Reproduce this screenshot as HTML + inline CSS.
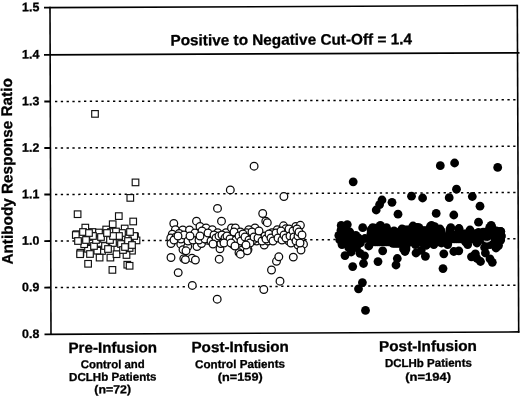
<!DOCTYPE html>
<html><head><meta charset="utf-8"><title>Antibody Response Ratio</title>
<style>
html,body{margin:0;padding:0;background:#fff;}
svg{display:block;font-family:"Liberation Sans",sans-serif;font-weight:bold;fill:#000;}
text{stroke:#000;stroke-width:0.3px;}
</style></head><body>
<svg width="520" height="397" viewBox="0 0 520 397">
<rect width="520" height="397" fill="#fff"/>
<line x1="55" y1="101.48" x2="516" y2="99.81" stroke="#000" stroke-width="1.5" stroke-dasharray="2.3 3.5"/>
<line x1="44.3" y1="101.52" x2="50.5" y2="101.5" stroke="#000" stroke-width="1.8" />
<line x1="55" y1="147.98" x2="516" y2="146.31" stroke="#000" stroke-width="1.5" stroke-dasharray="2.3 3.5"/>
<line x1="44.3" y1="148.02" x2="50.5" y2="148.0" stroke="#000" stroke-width="1.8" />
<line x1="55" y1="194.48" x2="516" y2="192.51" stroke="#000" stroke-width="1.5" stroke-dasharray="2.3 3.5"/>
<line x1="44.3" y1="194.52" x2="50.5" y2="194.5" stroke="#000" stroke-width="1.8" />
<line x1="55" y1="240.98" x2="516" y2="238.71" stroke="#000" stroke-width="1.5" stroke-dasharray="2.3 3.5"/>
<line x1="44.3" y1="241.03" x2="50.5" y2="241.0" stroke="#000" stroke-width="1.8" />
<line x1="55" y1="287.48" x2="516" y2="285.21" stroke="#000" stroke-width="1.5" stroke-dasharray="2.3 3.5"/>
<line x1="44.3" y1="287.53" x2="50.5" y2="287.5" stroke="#000" stroke-width="1.8" />
<line x1="44" y1="7.63" x2="517.3" y2="5.5" stroke="#000" stroke-width="1.6" />
<line x1="44" y1="54.82" x2="519.5" y2="52.89" stroke="#000" stroke-width="1.8" />
<line x1="44.5" y1="334.33" x2="519.4" y2="331.89" stroke="#000" stroke-width="1.6" />
<line x1="50" y1="6.8" x2="51" y2="335.1" stroke="#000" stroke-width="1.6" />
<line x1="517.3" y1="4.7" x2="518.7" y2="332.7" stroke="#000" stroke-width="1.6" />
<rect x="91.7" y="110.6" width="6.6" height="6.6" fill="#fff" stroke="#111" stroke-width="1.15"/>
<rect x="132.2" y="179.1" width="6.6" height="6.6" fill="#fff" stroke="#111" stroke-width="1.15"/>
<rect x="127.0" y="194.6" width="6.6" height="6.6" fill="#fff" stroke="#111" stroke-width="1.15"/>
<rect x="74.3" y="210.9" width="6.6" height="6.6" fill="#fff" stroke="#111" stroke-width="1.15"/>
<rect x="115.5" y="212.8" width="6.6" height="6.6" fill="#fff" stroke="#111" stroke-width="1.15"/>
<rect x="129.9" y="218.2" width="6.6" height="6.6" fill="#fff" stroke="#111" stroke-width="1.15"/>
<rect x="109.4" y="220.9" width="6.6" height="6.6" fill="#fff" stroke="#111" stroke-width="1.15"/>
<rect x="82.0" y="224.3" width="6.6" height="6.6" fill="#fff" stroke="#111" stroke-width="1.15"/>
<rect x="121.4" y="225.2" width="6.6" height="6.6" fill="#fff" stroke="#111" stroke-width="1.15"/>
<rect x="102.9" y="226.2" width="6.6" height="6.6" fill="#fff" stroke="#111" stroke-width="1.15"/>
<rect x="89.1" y="228.7" width="6.6" height="6.6" fill="#fff" stroke="#111" stroke-width="1.15"/>
<rect x="73.2" y="230.9" width="6.6" height="6.6" fill="#fff" stroke="#111" stroke-width="1.15"/>
<rect x="77.1" y="233.5" width="6.6" height="6.6" fill="#fff" stroke="#111" stroke-width="1.15"/>
<rect x="131.7" y="233.2" width="6.6" height="6.6" fill="#fff" stroke="#111" stroke-width="1.15"/>
<rect x="133.2" y="237.1" width="6.6" height="6.6" fill="#fff" stroke="#111" stroke-width="1.15"/>
<rect x="103.2" y="237.4" width="6.6" height="6.6" fill="#fff" stroke="#111" stroke-width="1.15"/>
<rect x="93.2" y="232.5" width="6.6" height="6.6" fill="#fff" stroke="#111" stroke-width="1.15"/>
<rect x="122.5" y="234.7" width="6.6" height="6.6" fill="#fff" stroke="#111" stroke-width="1.15"/>
<rect x="114.7" y="236.3" width="6.6" height="6.6" fill="#fff" stroke="#111" stroke-width="1.15"/>
<rect x="84.7" y="245.5" width="6.6" height="6.6" fill="#fff" stroke="#111" stroke-width="1.15"/>
<rect x="98.7" y="247.7" width="6.6" height="6.6" fill="#fff" stroke="#111" stroke-width="1.15"/>
<rect x="94.0" y="247.4" width="6.6" height="6.6" fill="#fff" stroke="#111" stroke-width="1.15"/>
<rect x="77.1" y="249.4" width="6.6" height="6.6" fill="#fff" stroke="#111" stroke-width="1.15"/>
<rect x="128.7" y="247.4" width="6.6" height="6.6" fill="#fff" stroke="#111" stroke-width="1.15"/>
<rect x="114.0" y="244.7" width="6.6" height="6.6" fill="#fff" stroke="#111" stroke-width="1.15"/>
<rect x="123.2" y="240.9" width="6.6" height="6.6" fill="#fff" stroke="#111" stroke-width="1.15"/>
<rect x="80.9" y="240.9" width="6.6" height="6.6" fill="#fff" stroke="#111" stroke-width="1.15"/>
<rect x="84.8" y="260.5" width="6.6" height="6.6" fill="#fff" stroke="#111" stroke-width="1.15"/>
<rect x="109.1" y="266.6" width="6.6" height="6.6" fill="#fff" stroke="#111" stroke-width="1.15"/>
<rect x="124.0" y="261.4" width="6.6" height="6.6" fill="#fff" stroke="#111" stroke-width="1.15"/>
<rect x="126.3" y="262.5" width="6.6" height="6.6" fill="#fff" stroke="#111" stroke-width="1.15"/>
<rect x="76.8" y="250.9" width="6.6" height="6.6" fill="#fff" stroke="#111" stroke-width="1.15"/>
<rect x="96.3" y="254.3" width="6.6" height="6.6" fill="#fff" stroke="#111" stroke-width="1.15"/>
<rect x="107.1" y="254.3" width="6.6" height="6.6" fill="#fff" stroke="#111" stroke-width="1.15"/>
<rect x="113.2" y="250.9" width="6.6" height="6.6" fill="#fff" stroke="#111" stroke-width="1.15"/>
<rect x="123.2" y="251.7" width="6.6" height="6.6" fill="#fff" stroke="#111" stroke-width="1.15"/>
<rect x="126.3" y="244.7" width="6.6" height="6.6" fill="#fff" stroke="#111" stroke-width="1.15"/>
<rect x="130.9" y="232.7" width="6.6" height="6.6" fill="#fff" stroke="#111" stroke-width="1.15"/>
<rect x="72.5" y="231.7" width="6.6" height="6.6" fill="#fff" stroke="#111" stroke-width="1.15"/>
<rect x="107.7" y="228.7" width="6.6" height="6.6" fill="#fff" stroke="#111" stroke-width="1.15"/>
<rect x="87.7" y="237.7" width="6.6" height="6.6" fill="#fff" stroke="#111" stroke-width="1.15"/>
<rect x="98.7" y="230.7" width="6.6" height="6.6" fill="#fff" stroke="#111" stroke-width="1.15"/>
<rect x="112.5" y="232.5" width="6.6" height="6.6" fill="#fff" stroke="#111" stroke-width="1.15"/>
<rect x="117.7" y="240.7" width="6.6" height="6.6" fill="#fff" stroke="#111" stroke-width="1.15"/>
<rect x="105.7" y="233.7" width="6.6" height="6.6" fill="#fff" stroke="#111" stroke-width="1.15"/>
<rect x="109.7" y="239.7" width="6.6" height="6.6" fill="#fff" stroke="#111" stroke-width="1.15"/>
<rect x="96.7" y="239.7" width="6.6" height="6.6" fill="#fff" stroke="#111" stroke-width="1.15"/>
<rect x="90.7" y="242.7" width="6.6" height="6.6" fill="#fff" stroke="#111" stroke-width="1.15"/>
<rect x="101.7" y="242.7" width="6.6" height="6.6" fill="#fff" stroke="#111" stroke-width="1.15"/>
<rect x="118.7" y="229.7" width="6.6" height="6.6" fill="#fff" stroke="#111" stroke-width="1.15"/>
<rect x="126.7" y="228.7" width="6.6" height="6.6" fill="#fff" stroke="#111" stroke-width="1.15"/>
<rect x="84.7" y="233.7" width="6.6" height="6.6" fill="#fff" stroke="#111" stroke-width="1.15"/>
<rect x="79.7" y="228.7" width="6.6" height="6.6" fill="#fff" stroke="#111" stroke-width="1.15"/>
<rect x="95.7" y="229.2" width="6.6" height="6.6" fill="#fff" stroke="#111" stroke-width="1.15"/>
<rect x="112.7" y="228.2" width="6.6" height="6.6" fill="#fff" stroke="#111" stroke-width="1.15"/>
<rect x="119.7" y="246.7" width="6.6" height="6.6" fill="#fff" stroke="#111" stroke-width="1.15"/>
<rect x="104.7" y="245.7" width="6.6" height="6.6" fill="#fff" stroke="#111" stroke-width="1.15"/>
<rect x="86.7" y="250.7" width="6.6" height="6.6" fill="#fff" stroke="#111" stroke-width="1.15"/>
<rect x="100.7" y="235.7" width="6.6" height="6.6" fill="#fff" stroke="#111" stroke-width="1.15"/>
<rect x="124.7" y="237.7" width="6.6" height="6.6" fill="#fff" stroke="#111" stroke-width="1.15"/>
<rect x="82.7" y="236.7" width="6.6" height="6.6" fill="#fff" stroke="#111" stroke-width="1.15"/>
<rect x="74.7" y="237.7" width="6.6" height="6.6" fill="#fff" stroke="#111" stroke-width="1.15"/>
<rect x="92.7" y="236.7" width="6.6" height="6.6" fill="#fff" stroke="#111" stroke-width="1.15"/>
<rect x="115.7" y="232.7" width="6.6" height="6.6" fill="#fff" stroke="#111" stroke-width="1.15"/>
<rect x="106.7" y="236.7" width="6.6" height="6.6" fill="#fff" stroke="#111" stroke-width="1.15"/>
<rect x="128.7" y="241.7" width="6.6" height="6.6" fill="#fff" stroke="#111" stroke-width="1.15"/>
<rect x="97.7" y="233.7" width="6.6" height="6.6" fill="#fff" stroke="#111" stroke-width="1.15"/>
<rect x="109.7" y="232.7" width="6.6" height="6.6" fill="#fff" stroke="#111" stroke-width="1.15"/>
<rect x="89.7" y="232.7" width="6.6" height="6.6" fill="#fff" stroke="#111" stroke-width="1.15"/>
<rect x="121.7" y="243.7" width="6.6" height="6.6" fill="#fff" stroke="#111" stroke-width="1.15"/>
<rect x="103.7" y="229.7" width="6.6" height="6.6" fill="#fff" stroke="#111" stroke-width="1.15"/>
<rect x="85.7" y="229.7" width="6.6" height="6.6" fill="#fff" stroke="#111" stroke-width="1.15"/>
<circle cx="230.3" cy="189.9" r="3.85" fill="#fff" stroke="#0a0a0a" stroke-width="1.25"/>
<circle cx="217.5" cy="208.4" r="3.85" fill="#fff" stroke="#0a0a0a" stroke-width="1.25"/>
<circle cx="254.1" cy="166.2" r="3.85" fill="#fff" stroke="#0a0a0a" stroke-width="1.25"/>
<circle cx="283.9" cy="196.5" r="3.85" fill="#fff" stroke="#0a0a0a" stroke-width="1.25"/>
<circle cx="221.5" cy="221.2" r="3.85" fill="#fff" stroke="#0a0a0a" stroke-width="1.25"/>
<circle cx="196.5" cy="221.2" r="3.85" fill="#fff" stroke="#0a0a0a" stroke-width="1.25"/>
<circle cx="173.8" cy="223.5" r="3.85" fill="#fff" stroke="#0a0a0a" stroke-width="1.25"/>
<circle cx="175.4" cy="229.6" r="3.85" fill="#fff" stroke="#0a0a0a" stroke-width="1.25"/>
<circle cx="182.8" cy="230.0" r="3.85" fill="#fff" stroke="#0a0a0a" stroke-width="1.25"/>
<circle cx="189.5" cy="230.0" r="3.85" fill="#fff" stroke="#0a0a0a" stroke-width="1.25"/>
<circle cx="200.0" cy="226.5" r="3.85" fill="#fff" stroke="#0a0a0a" stroke-width="1.25"/>
<circle cx="206.0" cy="228.0" r="3.85" fill="#fff" stroke="#0a0a0a" stroke-width="1.25"/>
<circle cx="212.3" cy="229.6" r="3.85" fill="#fff" stroke="#0a0a0a" stroke-width="1.25"/>
<circle cx="217.7" cy="232.7" r="3.85" fill="#fff" stroke="#0a0a0a" stroke-width="1.25"/>
<circle cx="172.3" cy="234.2" r="3.85" fill="#fff" stroke="#0a0a0a" stroke-width="1.25"/>
<circle cx="179.2" cy="233.5" r="3.85" fill="#fff" stroke="#0a0a0a" stroke-width="1.25"/>
<circle cx="170.8" cy="238.0" r="3.85" fill="#fff" stroke="#0a0a0a" stroke-width="1.25"/>
<circle cx="171.0" cy="243.5" r="3.85" fill="#fff" stroke="#0a0a0a" stroke-width="1.25"/>
<circle cx="180.8" cy="244.2" r="3.85" fill="#fff" stroke="#0a0a0a" stroke-width="1.25"/>
<circle cx="183.0" cy="249.6" r="3.85" fill="#fff" stroke="#0a0a0a" stroke-width="1.25"/>
<circle cx="187.7" cy="246.5" r="3.85" fill="#fff" stroke="#0a0a0a" stroke-width="1.25"/>
<circle cx="197.0" cy="246.5" r="3.85" fill="#fff" stroke="#0a0a0a" stroke-width="1.25"/>
<circle cx="201.5" cy="243.5" r="3.85" fill="#fff" stroke="#0a0a0a" stroke-width="1.25"/>
<circle cx="207.7" cy="240.4" r="3.85" fill="#fff" stroke="#0a0a0a" stroke-width="1.25"/>
<circle cx="213.8" cy="240.4" r="3.85" fill="#fff" stroke="#0a0a0a" stroke-width="1.25"/>
<circle cx="220.0" cy="248.8" r="3.85" fill="#fff" stroke="#0a0a0a" stroke-width="1.25"/>
<circle cx="220.8" cy="243.5" r="3.85" fill="#fff" stroke="#0a0a0a" stroke-width="1.25"/>
<circle cx="226.0" cy="232.7" r="3.85" fill="#fff" stroke="#0a0a0a" stroke-width="1.25"/>
<circle cx="231.5" cy="228.0" r="3.85" fill="#fff" stroke="#0a0a0a" stroke-width="1.25"/>
<circle cx="235.4" cy="228.0" r="3.85" fill="#fff" stroke="#0a0a0a" stroke-width="1.25"/>
<circle cx="232.3" cy="235.8" r="3.85" fill="#fff" stroke="#0a0a0a" stroke-width="1.25"/>
<circle cx="237.7" cy="235.8" r="3.85" fill="#fff" stroke="#0a0a0a" stroke-width="1.25"/>
<circle cx="233.8" cy="245.0" r="3.85" fill="#fff" stroke="#0a0a0a" stroke-width="1.25"/>
<circle cx="239.0" cy="252.7" r="3.85" fill="#fff" stroke="#0a0a0a" stroke-width="1.25"/>
<circle cx="171.0" cy="257.5" r="3.85" fill="#fff" stroke="#0a0a0a" stroke-width="1.25"/>
<circle cx="219.2" cy="259.2" r="3.85" fill="#fff" stroke="#0a0a0a" stroke-width="1.25"/>
<circle cx="183.8" cy="258.6" r="3.85" fill="#fff" stroke="#0a0a0a" stroke-width="1.25"/>
<circle cx="192.0" cy="258.2" r="3.85" fill="#fff" stroke="#0a0a0a" stroke-width="1.25"/>
<circle cx="195.4" cy="260.0" r="3.85" fill="#fff" stroke="#0a0a0a" stroke-width="1.25"/>
<circle cx="185.4" cy="259.6" r="3.85" fill="#fff" stroke="#0a0a0a" stroke-width="1.25"/>
<circle cx="191.5" cy="236.5" r="3.85" fill="#fff" stroke="#0a0a0a" stroke-width="1.25"/>
<circle cx="197.0" cy="236.5" r="3.85" fill="#fff" stroke="#0a0a0a" stroke-width="1.25"/>
<circle cx="203.0" cy="235.8" r="3.85" fill="#fff" stroke="#0a0a0a" stroke-width="1.25"/>
<circle cx="209.0" cy="236.5" r="3.85" fill="#fff" stroke="#0a0a0a" stroke-width="1.25"/>
<circle cx="186.0" cy="238.0" r="3.85" fill="#fff" stroke="#0a0a0a" stroke-width="1.25"/>
<circle cx="223.0" cy="239.6" r="3.85" fill="#fff" stroke="#0a0a0a" stroke-width="1.25"/>
<circle cx="228.5" cy="240.4" r="3.85" fill="#fff" stroke="#0a0a0a" stroke-width="1.25"/>
<circle cx="178.2" cy="272.6" r="3.85" fill="#fff" stroke="#0a0a0a" stroke-width="1.25"/>
<circle cx="192.3" cy="285.4" r="3.85" fill="#fff" stroke="#0a0a0a" stroke-width="1.25"/>
<circle cx="217.2" cy="299.2" r="3.85" fill="#fff" stroke="#0a0a0a" stroke-width="1.25"/>
<circle cx="186.0" cy="250.8" r="3.85" fill="#fff" stroke="#0a0a0a" stroke-width="1.25"/>
<circle cx="262.7" cy="213.5" r="3.85" fill="#fff" stroke="#0a0a0a" stroke-width="1.25"/>
<circle cx="265.8" cy="221.2" r="3.85" fill="#fff" stroke="#0a0a0a" stroke-width="1.25"/>
<circle cx="267.3" cy="222.7" r="3.85" fill="#fff" stroke="#0a0a0a" stroke-width="1.25"/>
<circle cx="255.0" cy="228.0" r="3.85" fill="#fff" stroke="#0a0a0a" stroke-width="1.25"/>
<circle cx="248.8" cy="229.6" r="3.85" fill="#fff" stroke="#0a0a0a" stroke-width="1.25"/>
<circle cx="240.4" cy="232.0" r="3.85" fill="#fff" stroke="#0a0a0a" stroke-width="1.25"/>
<circle cx="237.3" cy="238.0" r="3.85" fill="#fff" stroke="#0a0a0a" stroke-width="1.25"/>
<circle cx="242.7" cy="238.0" r="3.85" fill="#fff" stroke="#0a0a0a" stroke-width="1.25"/>
<circle cx="244.2" cy="243.5" r="3.85" fill="#fff" stroke="#0a0a0a" stroke-width="1.25"/>
<circle cx="248.0" cy="249.6" r="3.85" fill="#fff" stroke="#0a0a0a" stroke-width="1.25"/>
<circle cx="240.4" cy="254.2" r="3.85" fill="#fff" stroke="#0a0a0a" stroke-width="1.25"/>
<circle cx="238.0" cy="243.5" r="3.85" fill="#fff" stroke="#0a0a0a" stroke-width="1.25"/>
<circle cx="251.0" cy="235.0" r="3.85" fill="#fff" stroke="#0a0a0a" stroke-width="1.25"/>
<circle cx="256.5" cy="234.2" r="3.85" fill="#fff" stroke="#0a0a0a" stroke-width="1.25"/>
<circle cx="261.0" cy="237.3" r="3.85" fill="#fff" stroke="#0a0a0a" stroke-width="1.25"/>
<circle cx="256.5" cy="241.0" r="3.85" fill="#fff" stroke="#0a0a0a" stroke-width="1.25"/>
<circle cx="264.2" cy="245.0" r="3.85" fill="#fff" stroke="#0a0a0a" stroke-width="1.25"/>
<circle cx="268.0" cy="241.0" r="3.85" fill="#fff" stroke="#0a0a0a" stroke-width="1.25"/>
<circle cx="272.0" cy="232.7" r="3.85" fill="#fff" stroke="#0a0a0a" stroke-width="1.25"/>
<circle cx="275.0" cy="237.3" r="3.85" fill="#fff" stroke="#0a0a0a" stroke-width="1.25"/>
<circle cx="277.3" cy="229.6" r="3.85" fill="#fff" stroke="#0a0a0a" stroke-width="1.25"/>
<circle cx="280.4" cy="236.5" r="3.85" fill="#fff" stroke="#0a0a0a" stroke-width="1.25"/>
<circle cx="283.5" cy="225.8" r="3.85" fill="#fff" stroke="#0a0a0a" stroke-width="1.25"/>
<circle cx="285.8" cy="228.8" r="3.85" fill="#fff" stroke="#0a0a0a" stroke-width="1.25"/>
<circle cx="288.0" cy="233.5" r="3.85" fill="#fff" stroke="#0a0a0a" stroke-width="1.25"/>
<circle cx="288.8" cy="241.0" r="3.85" fill="#fff" stroke="#0a0a0a" stroke-width="1.25"/>
<circle cx="292.7" cy="239.6" r="3.85" fill="#fff" stroke="#0a0a0a" stroke-width="1.25"/>
<circle cx="295.8" cy="233.5" r="3.85" fill="#fff" stroke="#0a0a0a" stroke-width="1.25"/>
<circle cx="295.8" cy="226.5" r="3.85" fill="#fff" stroke="#0a0a0a" stroke-width="1.25"/>
<circle cx="300.4" cy="225.3" r="3.85" fill="#fff" stroke="#0a0a0a" stroke-width="1.25"/>
<circle cx="301.0" cy="239.6" r="3.85" fill="#fff" stroke="#0a0a0a" stroke-width="1.25"/>
<circle cx="303.5" cy="244.2" r="3.85" fill="#fff" stroke="#0a0a0a" stroke-width="1.25"/>
<circle cx="298.0" cy="245.0" r="3.85" fill="#fff" stroke="#0a0a0a" stroke-width="1.25"/>
<circle cx="276.5" cy="261.3" r="3.85" fill="#fff" stroke="#0a0a0a" stroke-width="1.25"/>
<circle cx="293.3" cy="257.1" r="3.85" fill="#fff" stroke="#0a0a0a" stroke-width="1.25"/>
<circle cx="278.8" cy="256.8" r="3.85" fill="#fff" stroke="#0a0a0a" stroke-width="1.25"/>
<circle cx="253.5" cy="239.6" r="3.85" fill="#fff" stroke="#0a0a0a" stroke-width="1.25"/>
<circle cx="246.5" cy="232.7" r="3.85" fill="#fff" stroke="#0a0a0a" stroke-width="1.25"/>
<circle cx="271.5" cy="270.0" r="3.85" fill="#fff" stroke="#0a0a0a" stroke-width="1.25"/>
<circle cx="280.0" cy="281.2" r="3.85" fill="#fff" stroke="#0a0a0a" stroke-width="1.25"/>
<circle cx="263.8" cy="289.5" r="3.85" fill="#fff" stroke="#0a0a0a" stroke-width="1.25"/>
<circle cx="247.3" cy="250.8" r="3.85" fill="#fff" stroke="#0a0a0a" stroke-width="1.25"/>
<circle cx="301.0" cy="250.0" r="3.85" fill="#fff" stroke="#0a0a0a" stroke-width="1.25"/>
<circle cx="176.0" cy="237.0" r="3.85" fill="#fff" stroke="#0a0a0a" stroke-width="1.25"/>
<circle cx="181.0" cy="239.0" r="3.85" fill="#fff" stroke="#0a0a0a" stroke-width="1.25"/>
<circle cx="184.0" cy="235.0" r="3.85" fill="#fff" stroke="#0a0a0a" stroke-width="1.25"/>
<circle cx="188.0" cy="241.0" r="3.85" fill="#fff" stroke="#0a0a0a" stroke-width="1.25"/>
<circle cx="193.0" cy="240.0" r="3.85" fill="#fff" stroke="#0a0a0a" stroke-width="1.25"/>
<circle cx="195.0" cy="233.0" r="3.85" fill="#fff" stroke="#0a0a0a" stroke-width="1.25"/>
<circle cx="199.0" cy="240.0" r="3.85" fill="#fff" stroke="#0a0a0a" stroke-width="1.25"/>
<circle cx="202.0" cy="231.0" r="3.85" fill="#fff" stroke="#0a0a0a" stroke-width="1.25"/>
<circle cx="205.0" cy="239.0" r="3.85" fill="#fff" stroke="#0a0a0a" stroke-width="1.25"/>
<circle cx="208.0" cy="233.0" r="3.85" fill="#fff" stroke="#0a0a0a" stroke-width="1.25"/>
<circle cx="211.0" cy="241.0" r="3.85" fill="#fff" stroke="#0a0a0a" stroke-width="1.25"/>
<circle cx="214.0" cy="235.0" r="3.85" fill="#fff" stroke="#0a0a0a" stroke-width="1.25"/>
<circle cx="216.0" cy="238.0" r="3.85" fill="#fff" stroke="#0a0a0a" stroke-width="1.25"/>
<circle cx="219.0" cy="236.0" r="3.85" fill="#fff" stroke="#0a0a0a" stroke-width="1.25"/>
<circle cx="222.0" cy="235.0" r="3.85" fill="#fff" stroke="#0a0a0a" stroke-width="1.25"/>
<circle cx="225.0" cy="238.0" r="3.85" fill="#fff" stroke="#0a0a0a" stroke-width="1.25"/>
<circle cx="227.0" cy="236.0" r="3.85" fill="#fff" stroke="#0a0a0a" stroke-width="1.25"/>
<circle cx="230.0" cy="239.0" r="3.85" fill="#fff" stroke="#0a0a0a" stroke-width="1.25"/>
<circle cx="234.0" cy="232.0" r="3.85" fill="#fff" stroke="#0a0a0a" stroke-width="1.25"/>
<circle cx="236.0" cy="240.0" r="3.85" fill="#fff" stroke="#0a0a0a" stroke-width="1.25"/>
<circle cx="239.0" cy="236.0" r="3.85" fill="#fff" stroke="#0a0a0a" stroke-width="1.25"/>
<circle cx="241.0" cy="241.0" r="3.85" fill="#fff" stroke="#0a0a0a" stroke-width="1.25"/>
<circle cx="243.0" cy="234.0" r="3.85" fill="#fff" stroke="#0a0a0a" stroke-width="1.25"/>
<circle cx="245.0" cy="237.0" r="3.85" fill="#fff" stroke="#0a0a0a" stroke-width="1.25"/>
<circle cx="249.0" cy="240.0" r="3.85" fill="#fff" stroke="#0a0a0a" stroke-width="1.25"/>
<circle cx="250.0" cy="243.0" r="3.85" fill="#fff" stroke="#0a0a0a" stroke-width="1.25"/>
<circle cx="252.0" cy="232.0" r="3.85" fill="#fff" stroke="#0a0a0a" stroke-width="1.25"/>
<circle cx="254.0" cy="237.0" r="3.85" fill="#fff" stroke="#0a0a0a" stroke-width="1.25"/>
<circle cx="258.0" cy="238.0" r="3.85" fill="#fff" stroke="#0a0a0a" stroke-width="1.25"/>
<circle cx="259.0" cy="231.0" r="3.85" fill="#fff" stroke="#0a0a0a" stroke-width="1.25"/>
<circle cx="262.0" cy="241.0" r="3.85" fill="#fff" stroke="#0a0a0a" stroke-width="1.25"/>
<circle cx="265.0" cy="236.0" r="3.85" fill="#fff" stroke="#0a0a0a" stroke-width="1.25"/>
<circle cx="266.0" cy="239.0" r="3.85" fill="#fff" stroke="#0a0a0a" stroke-width="1.25"/>
<circle cx="269.0" cy="234.0" r="3.85" fill="#fff" stroke="#0a0a0a" stroke-width="1.25"/>
<circle cx="271.0" cy="238.0" r="3.85" fill="#fff" stroke="#0a0a0a" stroke-width="1.25"/>
<circle cx="273.0" cy="241.0" r="3.85" fill="#fff" stroke="#0a0a0a" stroke-width="1.25"/>
<circle cx="276.0" cy="233.0" r="3.85" fill="#fff" stroke="#0a0a0a" stroke-width="1.25"/>
<circle cx="278.0" cy="238.0" r="3.85" fill="#fff" stroke="#0a0a0a" stroke-width="1.25"/>
<circle cx="281.0" cy="231.0" r="3.85" fill="#fff" stroke="#0a0a0a" stroke-width="1.25"/>
<circle cx="282.0" cy="240.0" r="3.85" fill="#fff" stroke="#0a0a0a" stroke-width="1.25"/>
<circle cx="284.0" cy="235.0" r="3.85" fill="#fff" stroke="#0a0a0a" stroke-width="1.25"/>
<circle cx="286.0" cy="238.0" r="3.85" fill="#fff" stroke="#0a0a0a" stroke-width="1.25"/>
<circle cx="289.0" cy="229.0" r="3.85" fill="#fff" stroke="#0a0a0a" stroke-width="1.25"/>
<circle cx="290.0" cy="236.0" r="3.85" fill="#fff" stroke="#0a0a0a" stroke-width="1.25"/>
<circle cx="291.0" cy="243.0" r="3.85" fill="#fff" stroke="#0a0a0a" stroke-width="1.25"/>
<circle cx="293.0" cy="231.0" r="3.85" fill="#fff" stroke="#0a0a0a" stroke-width="1.25"/>
<circle cx="294.0" cy="237.0" r="3.85" fill="#fff" stroke="#0a0a0a" stroke-width="1.25"/>
<circle cx="296.0" cy="241.0" r="3.85" fill="#fff" stroke="#0a0a0a" stroke-width="1.25"/>
<circle cx="297.0" cy="229.0" r="3.85" fill="#fff" stroke="#0a0a0a" stroke-width="1.25"/>
<circle cx="298.0" cy="236.0" r="3.85" fill="#fff" stroke="#0a0a0a" stroke-width="1.25"/>
<circle cx="299.0" cy="232.0" r="3.85" fill="#fff" stroke="#0a0a0a" stroke-width="1.25"/>
<circle cx="300.0" cy="243.0" r="3.85" fill="#fff" stroke="#0a0a0a" stroke-width="1.25"/>
<circle cx="302.0" cy="235.0" r="3.85" fill="#fff" stroke="#0a0a0a" stroke-width="1.25"/>
<circle cx="190.0" cy="236.0" r="3.85" fill="#fff" stroke="#0a0a0a" stroke-width="1.25"/>
<circle cx="174.0" cy="240.0" r="3.85" fill="#fff" stroke="#0a0a0a" stroke-width="1.25"/>
<circle cx="178.0" cy="236.0" r="3.85" fill="#fff" stroke="#0a0a0a" stroke-width="1.25"/>
<circle cx="200.0" cy="236.0" r="3.85" fill="#fff" stroke="#0a0a0a" stroke-width="1.25"/>
<circle cx="213.0" cy="244.0" r="3.85" fill="#fff" stroke="#0a0a0a" stroke-width="1.25"/>
<circle cx="224.0" cy="243.0" r="3.85" fill="#fff" stroke="#0a0a0a" stroke-width="1.25"/>
<circle cx="231.0" cy="243.0" r="3.85" fill="#fff" stroke="#0a0a0a" stroke-width="1.25"/>
<circle cx="235.0" cy="246.0" r="3.85" fill="#fff" stroke="#0a0a0a" stroke-width="1.25"/>
<circle cx="246.0" cy="245.0" r="3.85" fill="#fff" stroke="#0a0a0a" stroke-width="1.25"/>
<circle cx="353.2" cy="181.8" r="4.4" fill="#000"/>
<circle cx="382.0" cy="200.0" r="4.4" fill="#000"/>
<circle cx="379.6" cy="204.6" r="4.4" fill="#000"/>
<circle cx="392.0" cy="202.3" r="4.4" fill="#000"/>
<circle cx="376.2" cy="210.0" r="4.4" fill="#000"/>
<circle cx="398.0" cy="214.2" r="4.4" fill="#000"/>
<circle cx="341.2" cy="225.4" r="4.4" fill="#000"/>
<circle cx="347.3" cy="224.6" r="4.4" fill="#000"/>
<circle cx="362.7" cy="227.7" r="4.4" fill="#000"/>
<circle cx="338.8" cy="235.4" r="4.4" fill="#000"/>
<circle cx="355.8" cy="235.4" r="4.4" fill="#000"/>
<circle cx="342.0" cy="244.6" r="4.4" fill="#000"/>
<circle cx="382.7" cy="250.8" r="4.4" fill="#000"/>
<circle cx="345.0" cy="255.6" r="4.4" fill="#000"/>
<circle cx="351.2" cy="252.0" r="4.4" fill="#000"/>
<circle cx="360.0" cy="253.4" r="4.4" fill="#000"/>
<circle cx="364.5" cy="255.8" r="4.4" fill="#000"/>
<circle cx="368.8" cy="246.0" r="4.4" fill="#000"/>
<circle cx="378.0" cy="261.6" r="4.4" fill="#000"/>
<circle cx="397.3" cy="258.5" r="4.4" fill="#000"/>
<circle cx="403.5" cy="249.0" r="4.4" fill="#000"/>
<circle cx="372.7" cy="227.7" r="4.4" fill="#000"/>
<circle cx="380.4" cy="225.4" r="4.4" fill="#000"/>
<circle cx="386.5" cy="227.7" r="4.4" fill="#000"/>
<circle cx="394.0" cy="230.8" r="4.4" fill="#000"/>
<circle cx="402.0" cy="229.0" r="4.4" fill="#000"/>
<circle cx="345.0" cy="230.8" r="4.4" fill="#000"/>
<circle cx="349.6" cy="237.0" r="4.4" fill="#000"/>
<circle cx="343.5" cy="238.5" r="4.4" fill="#000"/>
<circle cx="352.7" cy="243.0" r="4.4" fill="#000"/>
<circle cx="360.4" cy="243.0" r="4.4" fill="#000"/>
<circle cx="365.0" cy="238.5" r="4.4" fill="#000"/>
<circle cx="348.8" cy="247.7" r="4.4" fill="#000"/>
<circle cx="356.5" cy="247.7" r="4.4" fill="#000"/>
<circle cx="363.5" cy="263.5" r="4.4" fill="#000"/>
<circle cx="352.7" cy="266.6" r="4.4" fill="#000"/>
<circle cx="396.0" cy="265.0" r="4.4" fill="#000"/>
<circle cx="362.4" cy="282.6" r="4.4" fill="#000"/>
<circle cx="358.5" cy="288.8" r="4.4" fill="#000"/>
<circle cx="365.5" cy="310.4" r="4.4" fill="#000"/>
<circle cx="405.0" cy="251.5" r="4.4" fill="#000"/>
<circle cx="440.3" cy="165.7" r="4.4" fill="#000"/>
<circle cx="454.6" cy="163.0" r="4.4" fill="#000"/>
<circle cx="456.5" cy="189.2" r="4.4" fill="#000"/>
<circle cx="411.5" cy="196.2" r="4.4" fill="#000"/>
<circle cx="422.6" cy="198.0" r="4.4" fill="#000"/>
<circle cx="449.2" cy="197.7" r="4.4" fill="#000"/>
<circle cx="472.3" cy="196.5" r="4.4" fill="#000"/>
<circle cx="480.0" cy="206.2" r="4.4" fill="#000"/>
<circle cx="436.2" cy="213.4" r="4.4" fill="#000"/>
<circle cx="453.8" cy="215.0" r="4.4" fill="#000"/>
<circle cx="478.5" cy="222.2" r="4.4" fill="#000"/>
<circle cx="497.7" cy="167.4" r="4.4" fill="#000"/>
<circle cx="413.0" cy="226.0" r="4.4" fill="#000"/>
<circle cx="419.0" cy="227.7" r="4.4" fill="#000"/>
<circle cx="431.5" cy="225.4" r="4.4" fill="#000"/>
<circle cx="440.0" cy="229.0" r="4.4" fill="#000"/>
<circle cx="450.8" cy="227.7" r="4.4" fill="#000"/>
<circle cx="459.0" cy="228.5" r="4.4" fill="#000"/>
<circle cx="470.0" cy="230.0" r="4.4" fill="#000"/>
<circle cx="403.0" cy="230.0" r="4.4" fill="#000"/>
<circle cx="406.0" cy="249.0" r="4.4" fill="#000"/>
<circle cx="416.0" cy="253.0" r="4.4" fill="#000"/>
<circle cx="425.4" cy="256.3" r="4.4" fill="#000"/>
<circle cx="421.2" cy="250.4" r="4.4" fill="#000"/>
<circle cx="443.8" cy="253.8" r="4.4" fill="#000"/>
<circle cx="453.8" cy="251.5" r="4.4" fill="#000"/>
<circle cx="458.8" cy="250.8" r="4.4" fill="#000"/>
<circle cx="474.6" cy="255.0" r="4.4" fill="#000"/>
<circle cx="471.5" cy="256.8" r="4.4" fill="#000"/>
<circle cx="467.7" cy="244.6" r="4.4" fill="#000"/>
<circle cx="433.8" cy="244.6" r="4.4" fill="#000"/>
<circle cx="426.0" cy="245.4" r="4.4" fill="#000"/>
<circle cx="415.4" cy="244.6" r="4.4" fill="#000"/>
<circle cx="447.7" cy="244.6" r="4.4" fill="#000"/>
<circle cx="477.0" cy="243.0" r="4.4" fill="#000"/>
<circle cx="443.0" cy="268.6" r="4.4" fill="#000"/>
<circle cx="475.4" cy="253.8" r="4.4" fill="#000"/>
<circle cx="477.0" cy="258.5" r="4.4" fill="#000"/>
<circle cx="480.5" cy="261.5" r="4.4" fill="#000"/>
<circle cx="491.2" cy="225.4" r="4.4" fill="#000"/>
<circle cx="500.8" cy="231.5" r="4.4" fill="#000"/>
<circle cx="501.5" cy="236.0" r="4.4" fill="#000"/>
<circle cx="478.5" cy="232.3" r="4.4" fill="#000"/>
<circle cx="486.0" cy="233.0" r="4.4" fill="#000"/>
<circle cx="493.8" cy="233.0" r="4.4" fill="#000"/>
<circle cx="500.0" cy="240.0" r="4.4" fill="#000"/>
<circle cx="496.0" cy="248.0" r="4.4" fill="#000"/>
<circle cx="490.0" cy="244.6" r="4.4" fill="#000"/>
<circle cx="484.6" cy="247.5" r="4.4" fill="#000"/>
<circle cx="485.4" cy="253.0" r="4.4" fill="#000"/>
<circle cx="490.0" cy="258.8" r="4.4" fill="#000"/>
<circle cx="492.3" cy="262.3" r="4.4" fill="#000"/>
<circle cx="446.0" cy="237.0" r="4.4" fill="#000"/>
<circle cx="461.5" cy="236.0" r="4.4" fill="#000"/>
<circle cx="475.4" cy="238.5" r="4.4" fill="#000"/>
<circle cx="483.0" cy="238.5" r="4.4" fill="#000"/>
<circle cx="490.8" cy="238.5" r="4.4" fill="#000"/>
<circle cx="441.5" cy="243.0" r="4.4" fill="#000"/>
<circle cx="341.0" cy="230.2" r="4.4" fill="#000"/>
<circle cx="344.5" cy="234.0" r="4.4" fill="#000"/>
<circle cx="339.8" cy="240.0" r="4.4" fill="#000"/>
<circle cx="346.0" cy="241.5" r="4.4" fill="#000"/>
<circle cx="351.0" cy="239.5" r="4.4" fill="#000"/>
<circle cx="356.0" cy="240.5" r="4.4" fill="#000"/>
<circle cx="349.8" cy="232.0" r="4.4" fill="#000"/>
<circle cx="358.5" cy="238.0" r="4.4" fill="#000"/>
<circle cx="346.5" cy="236.0" r="4.4" fill="#000"/>
<circle cx="341.5" cy="236.5" r="4.4" fill="#000"/>
<circle cx="370.9" cy="229.8" r="4.4" fill="#000"/>
<circle cx="370.9" cy="233.8" r="4.4" fill="#000"/>
<circle cx="370.9" cy="237.8" r="4.4" fill="#000"/>
<circle cx="370.9" cy="241.8" r="4.4" fill="#000"/>
<circle cx="373.1" cy="229.8" r="4.4" fill="#000"/>
<circle cx="373.1" cy="233.8" r="4.4" fill="#000"/>
<circle cx="373.1" cy="237.8" r="4.4" fill="#000"/>
<circle cx="373.1" cy="241.8" r="4.4" fill="#000"/>
<circle cx="375.3" cy="228.2" r="4.4" fill="#000"/>
<circle cx="375.3" cy="231.6" r="4.4" fill="#000"/>
<circle cx="375.3" cy="235.0" r="4.4" fill="#000"/>
<circle cx="375.3" cy="238.4" r="4.4" fill="#000"/>
<circle cx="375.3" cy="241.8" r="4.4" fill="#000"/>
<circle cx="377.5" cy="228.2" r="4.4" fill="#000"/>
<circle cx="377.5" cy="231.6" r="4.4" fill="#000"/>
<circle cx="377.5" cy="235.0" r="4.4" fill="#000"/>
<circle cx="377.5" cy="238.4" r="4.4" fill="#000"/>
<circle cx="377.5" cy="241.8" r="4.4" fill="#000"/>
<circle cx="379.7" cy="226.7" r="4.4" fill="#000"/>
<circle cx="379.7" cy="230.5" r="4.4" fill="#000"/>
<circle cx="379.7" cy="234.2" r="4.4" fill="#000"/>
<circle cx="379.7" cy="238.0" r="4.4" fill="#000"/>
<circle cx="379.7" cy="241.8" r="4.4" fill="#000"/>
<circle cx="381.9" cy="229.0" r="4.4" fill="#000"/>
<circle cx="381.9" cy="232.2" r="4.4" fill="#000"/>
<circle cx="381.9" cy="235.4" r="4.4" fill="#000"/>
<circle cx="381.9" cy="238.6" r="4.4" fill="#000"/>
<circle cx="381.9" cy="241.8" r="4.4" fill="#000"/>
<circle cx="384.1" cy="229.0" r="4.4" fill="#000"/>
<circle cx="384.1" cy="232.2" r="4.4" fill="#000"/>
<circle cx="384.1" cy="235.4" r="4.4" fill="#000"/>
<circle cx="384.1" cy="238.6" r="4.4" fill="#000"/>
<circle cx="384.1" cy="241.8" r="4.4" fill="#000"/>
<circle cx="386.3" cy="229.0" r="4.4" fill="#000"/>
<circle cx="386.3" cy="232.2" r="4.4" fill="#000"/>
<circle cx="386.3" cy="235.4" r="4.4" fill="#000"/>
<circle cx="386.3" cy="238.6" r="4.4" fill="#000"/>
<circle cx="386.3" cy="241.8" r="4.4" fill="#000"/>
<circle cx="388.5" cy="232.7" r="4.4" fill="#000"/>
<circle cx="388.5" cy="235.7" r="4.4" fill="#000"/>
<circle cx="388.5" cy="238.8" r="4.4" fill="#000"/>
<circle cx="388.5" cy="241.8" r="4.4" fill="#000"/>
<circle cx="390.7" cy="232.7" r="4.4" fill="#000"/>
<circle cx="390.7" cy="235.7" r="4.4" fill="#000"/>
<circle cx="390.7" cy="238.8" r="4.4" fill="#000"/>
<circle cx="390.7" cy="241.8" r="4.4" fill="#000"/>
<circle cx="392.9" cy="232.7" r="4.4" fill="#000"/>
<circle cx="392.9" cy="236.2" r="4.4" fill="#000"/>
<circle cx="392.9" cy="239.8" r="4.4" fill="#000"/>
<circle cx="392.9" cy="243.3" r="4.4" fill="#000"/>
<circle cx="395.1" cy="232.7" r="4.4" fill="#000"/>
<circle cx="395.1" cy="236.2" r="4.4" fill="#000"/>
<circle cx="395.1" cy="239.8" r="4.4" fill="#000"/>
<circle cx="395.1" cy="243.3" r="4.4" fill="#000"/>
<circle cx="397.3" cy="232.7" r="4.4" fill="#000"/>
<circle cx="397.3" cy="236.2" r="4.4" fill="#000"/>
<circle cx="397.3" cy="239.8" r="4.4" fill="#000"/>
<circle cx="397.3" cy="243.3" r="4.4" fill="#000"/>
<circle cx="399.5" cy="232.7" r="4.4" fill="#000"/>
<circle cx="399.5" cy="236.2" r="4.4" fill="#000"/>
<circle cx="399.5" cy="239.8" r="4.4" fill="#000"/>
<circle cx="399.5" cy="243.3" r="4.4" fill="#000"/>
<circle cx="401.7" cy="229.8" r="4.4" fill="#000"/>
<circle cx="401.7" cy="233.2" r="4.4" fill="#000"/>
<circle cx="401.7" cy="236.6" r="4.4" fill="#000"/>
<circle cx="401.7" cy="239.9" r="4.4" fill="#000"/>
<circle cx="401.7" cy="243.3" r="4.4" fill="#000"/>
<circle cx="403.9" cy="229.8" r="4.4" fill="#000"/>
<circle cx="403.9" cy="233.1" r="4.4" fill="#000"/>
<circle cx="403.9" cy="236.3" r="4.4" fill="#000"/>
<circle cx="403.9" cy="239.6" r="4.4" fill="#000"/>
<circle cx="403.9" cy="242.8" r="4.4" fill="#000"/>
<circle cx="403.9" cy="246.1" r="4.4" fill="#000"/>
<circle cx="406.1" cy="229.8" r="4.4" fill="#000"/>
<circle cx="406.1" cy="233.1" r="4.4" fill="#000"/>
<circle cx="406.1" cy="236.3" r="4.4" fill="#000"/>
<circle cx="406.1" cy="239.6" r="4.4" fill="#000"/>
<circle cx="406.1" cy="242.8" r="4.4" fill="#000"/>
<circle cx="406.1" cy="246.1" r="4.4" fill="#000"/>
<circle cx="408.3" cy="229.8" r="4.4" fill="#000"/>
<circle cx="408.3" cy="233.8" r="4.4" fill="#000"/>
<circle cx="408.3" cy="237.8" r="4.4" fill="#000"/>
<circle cx="408.3" cy="241.8" r="4.4" fill="#000"/>
<circle cx="410.5" cy="229.8" r="4.4" fill="#000"/>
<circle cx="410.5" cy="233.8" r="4.4" fill="#000"/>
<circle cx="410.5" cy="237.8" r="4.4" fill="#000"/>
<circle cx="410.5" cy="241.8" r="4.4" fill="#000"/>
<circle cx="412.7" cy="227.4" r="4.4" fill="#000"/>
<circle cx="412.7" cy="231.0" r="4.4" fill="#000"/>
<circle cx="412.7" cy="234.6" r="4.4" fill="#000"/>
<circle cx="412.7" cy="238.2" r="4.4" fill="#000"/>
<circle cx="412.7" cy="241.8" r="4.4" fill="#000"/>
<circle cx="414.9" cy="227.4" r="4.4" fill="#000"/>
<circle cx="414.9" cy="231.0" r="4.4" fill="#000"/>
<circle cx="414.9" cy="234.6" r="4.4" fill="#000"/>
<circle cx="414.9" cy="238.2" r="4.4" fill="#000"/>
<circle cx="414.9" cy="241.8" r="4.4" fill="#000"/>
<circle cx="417.1" cy="227.4" r="4.4" fill="#000"/>
<circle cx="417.1" cy="231.0" r="4.4" fill="#000"/>
<circle cx="417.1" cy="234.6" r="4.4" fill="#000"/>
<circle cx="417.1" cy="238.2" r="4.4" fill="#000"/>
<circle cx="417.1" cy="241.8" r="4.4" fill="#000"/>
<circle cx="419.3" cy="230.6" r="4.4" fill="#000"/>
<circle cx="419.3" cy="234.3" r="4.4" fill="#000"/>
<circle cx="419.3" cy="238.1" r="4.4" fill="#000"/>
<circle cx="419.3" cy="241.8" r="4.4" fill="#000"/>
<circle cx="421.5" cy="230.6" r="4.4" fill="#000"/>
<circle cx="421.5" cy="234.3" r="4.4" fill="#000"/>
<circle cx="421.5" cy="238.1" r="4.4" fill="#000"/>
<circle cx="421.5" cy="241.8" r="4.4" fill="#000"/>
<circle cx="423.7" cy="230.6" r="4.4" fill="#000"/>
<circle cx="423.7" cy="233.8" r="4.4" fill="#000"/>
<circle cx="423.7" cy="236.9" r="4.4" fill="#000"/>
<circle cx="423.7" cy="240.1" r="4.4" fill="#000"/>
<circle cx="423.7" cy="243.3" r="4.4" fill="#000"/>
<circle cx="425.9" cy="230.6" r="4.4" fill="#000"/>
<circle cx="425.9" cy="233.8" r="4.4" fill="#000"/>
<circle cx="425.9" cy="236.9" r="4.4" fill="#000"/>
<circle cx="425.9" cy="240.1" r="4.4" fill="#000"/>
<circle cx="425.9" cy="243.3" r="4.4" fill="#000"/>
<circle cx="428.1" cy="230.6" r="4.4" fill="#000"/>
<circle cx="428.1" cy="233.8" r="4.4" fill="#000"/>
<circle cx="428.1" cy="236.9" r="4.4" fill="#000"/>
<circle cx="428.1" cy="240.1" r="4.4" fill="#000"/>
<circle cx="428.1" cy="243.3" r="4.4" fill="#000"/>
<circle cx="430.3" cy="226.7" r="4.4" fill="#000"/>
<circle cx="430.3" cy="230.5" r="4.4" fill="#000"/>
<circle cx="430.3" cy="234.2" r="4.4" fill="#000"/>
<circle cx="430.3" cy="238.0" r="4.4" fill="#000"/>
<circle cx="430.3" cy="241.8" r="4.4" fill="#000"/>
<circle cx="432.5" cy="226.7" r="4.4" fill="#000"/>
<circle cx="432.5" cy="230.5" r="4.4" fill="#000"/>
<circle cx="432.5" cy="234.2" r="4.4" fill="#000"/>
<circle cx="432.5" cy="238.0" r="4.4" fill="#000"/>
<circle cx="432.5" cy="241.8" r="4.4" fill="#000"/>
<circle cx="434.7" cy="226.7" r="4.4" fill="#000"/>
<circle cx="434.7" cy="230.5" r="4.4" fill="#000"/>
<circle cx="434.7" cy="234.2" r="4.4" fill="#000"/>
<circle cx="434.7" cy="238.0" r="4.4" fill="#000"/>
<circle cx="434.7" cy="241.8" r="4.4" fill="#000"/>
<circle cx="436.9" cy="231.4" r="4.4" fill="#000"/>
<circle cx="436.9" cy="234.9" r="4.4" fill="#000"/>
<circle cx="436.9" cy="238.3" r="4.4" fill="#000"/>
<circle cx="436.9" cy="241.8" r="4.4" fill="#000"/>
<circle cx="439.1" cy="231.4" r="4.4" fill="#000"/>
<circle cx="439.1" cy="234.9" r="4.4" fill="#000"/>
<circle cx="439.1" cy="238.3" r="4.4" fill="#000"/>
<circle cx="439.1" cy="241.8" r="4.4" fill="#000"/>
<circle cx="441.3" cy="231.4" r="4.4" fill="#000"/>
<circle cx="441.3" cy="234.9" r="4.4" fill="#000"/>
<circle cx="441.3" cy="238.3" r="4.4" fill="#000"/>
<circle cx="441.3" cy="241.8" r="4.4" fill="#000"/>
<circle cx="443.5" cy="236.9" r="4.4" fill="#000"/>
<circle cx="443.5" cy="239.3" r="4.4" fill="#000"/>
<circle cx="443.5" cy="241.8" r="4.4" fill="#000"/>
<circle cx="445.7" cy="236.9" r="4.4" fill="#000"/>
<circle cx="445.7" cy="239.3" r="4.4" fill="#000"/>
<circle cx="445.7" cy="241.8" r="4.4" fill="#000"/>
<circle cx="447.9" cy="236.9" r="4.4" fill="#000"/>
<circle cx="447.9" cy="239.3" r="4.4" fill="#000"/>
<circle cx="447.9" cy="241.8" r="4.4" fill="#000"/>
<circle cx="450.1" cy="229.0" r="4.4" fill="#000"/>
<circle cx="450.1" cy="232.3" r="4.4" fill="#000"/>
<circle cx="450.1" cy="235.5" r="4.4" fill="#000"/>
<circle cx="450.1" cy="238.8" r="4.4" fill="#000"/>
<circle cx="452.3" cy="234.9" r="4.4" fill="#000"/>
<circle cx="452.3" cy="238.8" r="4.4" fill="#000"/>
<circle cx="454.5" cy="234.9" r="4.4" fill="#000"/>
<circle cx="454.5" cy="238.8" r="4.4" fill="#000"/>
<circle cx="456.7" cy="234.9" r="4.4" fill="#000"/>
<circle cx="456.7" cy="238.8" r="4.4" fill="#000"/>
<circle cx="458.9" cy="229.0" r="4.4" fill="#000"/>
<circle cx="458.9" cy="232.3" r="4.4" fill="#000"/>
<circle cx="458.9" cy="235.5" r="4.4" fill="#000"/>
<circle cx="458.9" cy="238.8" r="4.4" fill="#000"/>
<circle cx="461.1" cy="233.9" r="4.4" fill="#000"/>
<circle cx="461.1" cy="236.3" r="4.4" fill="#000"/>
<circle cx="461.1" cy="238.8" r="4.4" fill="#000"/>
<circle cx="463.3" cy="233.9" r="4.4" fill="#000"/>
<circle cx="463.3" cy="236.3" r="4.4" fill="#000"/>
<circle cx="463.3" cy="238.8" r="4.4" fill="#000"/>
<circle cx="465.5" cy="233.9" r="4.4" fill="#000"/>
<circle cx="465.5" cy="237.8" r="4.4" fill="#000"/>
<circle cx="465.5" cy="241.8" r="4.4" fill="#000"/>
<circle cx="467.7" cy="233.9" r="4.4" fill="#000"/>
<circle cx="467.7" cy="236.4" r="4.4" fill="#000"/>
<circle cx="467.7" cy="239.0" r="4.4" fill="#000"/>
<circle cx="469.9" cy="231.4" r="4.4" fill="#000"/>
<circle cx="469.9" cy="235.2" r="4.4" fill="#000"/>
<circle cx="469.9" cy="239.0" r="4.4" fill="#000"/>
<circle cx="472.1" cy="233.9" r="4.4" fill="#000"/>
<circle cx="472.1" cy="236.4" r="4.4" fill="#000"/>
<circle cx="472.1" cy="239.0" r="4.4" fill="#000"/>
<circle cx="474.3" cy="233.9" r="4.4" fill="#000"/>
<circle cx="474.3" cy="236.4" r="4.4" fill="#000"/>
<circle cx="474.3" cy="239.0" r="4.4" fill="#000"/>
<circle cx="476.5" cy="233.9" r="4.4" fill="#000"/>
<circle cx="476.5" cy="236.4" r="4.4" fill="#000"/>
<circle cx="476.5" cy="239.0" r="4.4" fill="#000"/>
<circle cx="478.7" cy="233.9" r="4.4" fill="#000"/>
<circle cx="478.7" cy="236.4" r="4.4" fill="#000"/>
<circle cx="478.7" cy="239.0" r="4.4" fill="#000"/>
<circle cx="480.9" cy="233.9" r="4.4" fill="#000"/>
<circle cx="480.9" cy="236.4" r="4.4" fill="#000"/>
<circle cx="480.9" cy="239.0" r="4.4" fill="#000"/>
<circle cx="483.1" cy="232.2" r="4.4" fill="#000"/>
<circle cx="483.1" cy="235.6" r="4.4" fill="#000"/>
<circle cx="483.1" cy="239.0" r="4.4" fill="#000"/>
<circle cx="485.3" cy="232.2" r="4.4" fill="#000"/>
<circle cx="485.3" cy="235.5" r="4.4" fill="#000"/>
<circle cx="485.3" cy="238.8" r="4.4" fill="#000"/>
<circle cx="485.3" cy="242.1" r="4.4" fill="#000"/>
<circle cx="487.5" cy="232.2" r="4.4" fill="#000"/>
<circle cx="487.5" cy="235.5" r="4.4" fill="#000"/>
<circle cx="487.5" cy="238.8" r="4.4" fill="#000"/>
<circle cx="487.5" cy="242.1" r="4.4" fill="#000"/>
<circle cx="489.7" cy="227.4" r="4.4" fill="#000"/>
<circle cx="489.7" cy="230.6" r="4.4" fill="#000"/>
<circle cx="489.7" cy="233.9" r="4.4" fill="#000"/>
<circle cx="489.7" cy="237.1" r="4.4" fill="#000"/>
<circle cx="489.7" cy="240.4" r="4.4" fill="#000"/>
<circle cx="489.7" cy="243.6" r="4.4" fill="#000"/>
<circle cx="491.9" cy="227.4" r="4.4" fill="#000"/>
<circle cx="491.9" cy="230.6" r="4.4" fill="#000"/>
<circle cx="491.9" cy="233.9" r="4.4" fill="#000"/>
<circle cx="491.9" cy="237.1" r="4.4" fill="#000"/>
<circle cx="491.9" cy="240.4" r="4.4" fill="#000"/>
<circle cx="491.9" cy="243.6" r="4.4" fill="#000"/>
<circle cx="494.1" cy="230.9" r="4.4" fill="#000"/>
<circle cx="494.1" cy="234.1" r="4.4" fill="#000"/>
<circle cx="494.1" cy="237.2" r="4.4" fill="#000"/>
<circle cx="494.1" cy="240.4" r="4.4" fill="#000"/>
<circle cx="494.1" cy="243.6" r="4.4" fill="#000"/>
<circle cx="496.3" cy="230.9" r="4.4" fill="#000"/>
<circle cx="496.3" cy="234.1" r="4.4" fill="#000"/>
<circle cx="496.3" cy="237.2" r="4.4" fill="#000"/>
<circle cx="496.3" cy="240.4" r="4.4" fill="#000"/>
<circle cx="496.3" cy="243.6" r="4.4" fill="#000"/>
<circle cx="498.5" cy="231.6" r="4.4" fill="#000"/>
<circle cx="498.5" cy="235.1" r="4.4" fill="#000"/>
<circle cx="498.5" cy="238.6" r="4.4" fill="#000"/>
<circle cx="498.5" cy="242.1" r="4.4" fill="#000"/>
<circle cx="498.5" cy="245.6" r="4.4" fill="#000"/>
<circle cx="500.7" cy="231.6" r="4.4" fill="#000"/>
<circle cx="500.7" cy="234.4" r="4.4" fill="#000"/>
<circle cx="500.7" cy="237.3" r="4.4" fill="#000"/>
<circle cx="500.7" cy="240.1" r="4.4" fill="#000"/>
<path d="M483.9 240.9 Q487.4 243.9 491 239.9 Q487.4 242.3 483.9 240.9Z" fill="#fff" stroke="#fff" stroke-width="0.5"/>
<text x="39.4" y="11.2" font-size="12.3" text-anchor="end" textLength="17.3" lengthAdjust="spacingAndGlyphs" transform="rotate(-0.27 39.4 11.2)">1.5</text>
<text x="39.4" y="58.4" font-size="12.3" text-anchor="end" textLength="17.3" lengthAdjust="spacingAndGlyphs" transform="rotate(-0.27 39.4 58.4)">1.4</text>
<text x="39.4" y="105.1" font-size="12.3" text-anchor="end" textLength="17.3" lengthAdjust="spacingAndGlyphs" transform="rotate(-0.27 39.4 105.1)">1.3</text>
<text x="39.4" y="151.6" font-size="12.3" text-anchor="end" textLength="17.3" lengthAdjust="spacingAndGlyphs" transform="rotate(-0.27 39.4 151.6)">1.2</text>
<text x="39.4" y="198.1" font-size="12.3" text-anchor="end" textLength="17.3" lengthAdjust="spacingAndGlyphs" transform="rotate(-0.27 39.4 198.1)">1.1</text>
<text x="39.4" y="244.6" font-size="12.3" text-anchor="end" textLength="17.3" lengthAdjust="spacingAndGlyphs" transform="rotate(-0.27 39.4 244.6)">1.0</text>
<text x="39.4" y="291.1" font-size="12.3" text-anchor="end" textLength="17.3" lengthAdjust="spacingAndGlyphs" transform="rotate(-0.27 39.4 291.1)">0.9</text>
<text x="39.4" y="337.9" font-size="12.3" text-anchor="end" textLength="17.3" lengthAdjust="spacingAndGlyphs" transform="rotate(-0.27 39.4 337.9)">0.8</text>
<text x="170.5" y="45.4" font-size="15.2" text-anchor="start" textLength="241.5" lengthAdjust="spacingAndGlyphs" transform="rotate(-0.27 170.5 45.4)">Positive to Negative Cut-Off = 1.4</text>
<text x="12.8" y="264.6" font-size="15.4" text-anchor="start" textLength="186.4" lengthAdjust="spacingAndGlyphs" transform="rotate(-90.27 12.8 264.6)">Antibody Response Ratio</text>
<text x="112.7" y="352.7" font-size="15" text-anchor="middle" textLength="88.5" lengthAdjust="spacingAndGlyphs" transform="rotate(-0.27 112.7 352.7)">Pre-Infusion</text>
<text x="112.8" y="368.2" font-size="11.5" text-anchor="middle" textLength="64" lengthAdjust="spacingAndGlyphs" transform="rotate(-0.27 112.8 368.2)">Control and</text>
<text x="112.8" y="380.8" font-size="11.5" text-anchor="middle" textLength="87.5" lengthAdjust="spacingAndGlyphs" transform="rotate(-0.27 112.8 380.8)">DCLHb Patients</text>
<text x="112.7" y="393.2" font-size="11.5" text-anchor="middle" textLength="36.8" lengthAdjust="spacingAndGlyphs" transform="rotate(-0.27 112.7 393.2)">(n=72)</text>
<text x="240.2" y="352" font-size="15" text-anchor="middle" textLength="97.5" lengthAdjust="spacingAndGlyphs" transform="rotate(-0.27 240.2 352)">Post-Infusion</text>
<text x="240" y="368.0" font-size="11.5" text-anchor="middle" textLength="90" lengthAdjust="spacingAndGlyphs" transform="rotate(-0.27 240 368.0)">Control Patients</text>
<text x="240.3" y="380.8" font-size="11.5" text-anchor="middle" textLength="44.9" lengthAdjust="spacingAndGlyphs" transform="rotate(-0.27 240.3 380.8)">(n=159)</text>
<text x="428" y="351.2" font-size="15" text-anchor="middle" textLength="98" lengthAdjust="spacingAndGlyphs" transform="rotate(-0.27 428 351.2)">Post-Infusion</text>
<text x="428.4" y="366.9" font-size="11.5" text-anchor="middle" textLength="87" lengthAdjust="spacingAndGlyphs" transform="rotate(-0.27 428.4 366.9)">DCLHb Patients</text>
<text x="428.2" y="380.7" font-size="11.5" text-anchor="middle" textLength="46" lengthAdjust="spacingAndGlyphs" transform="rotate(-0.27 428.2 380.7)">(n=194)</text>
</svg>
</body></html>
